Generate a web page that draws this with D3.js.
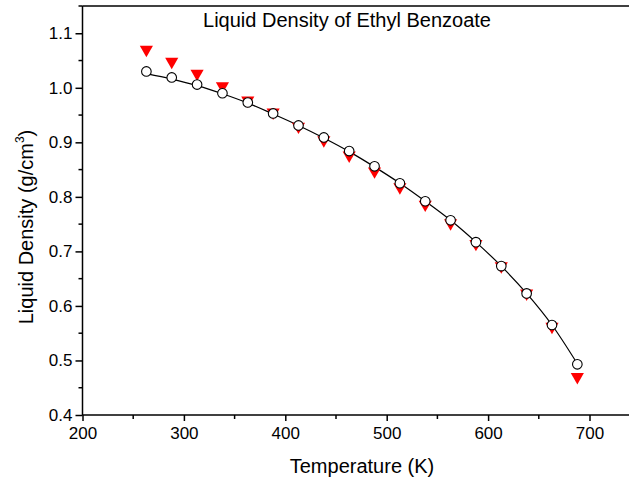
<!DOCTYPE html>
<html>
<head>
<meta charset="utf-8">
<script src="https://cdn.jsdelivr.net/npm/d3@7"></script>
<style>
  body { margin: 0; background: #fff; }
  text { font-family: Arial, "Liberation Sans", sans-serif; fill: #000; }
</style>
</head>
<body>
<script>
const w = 629;
const h = 480;

const temps = [263, 288, 313, 338, 363, 388, 413, 438, 463, 488, 513, 538, 563, 588, 613, 638, 663, 688];
const circleValues = [1.030, 1.019, 1.006, 0.990, 0.973, 0.953, 0.931, 0.909, 0.884, 0.856, 0.825, 0.792, 0.757, 0.717, 0.673, 0.623, 0.565, 0.493];
const triangleValues = [1.070, 1.048, 1.026, 1.003, 0.977, 0.955, 0.929, 0.904, 0.876, 0.847, 0.818, 0.786, 0.752, 0.714, 0.673, 0.623, 0.562, 0.470];
const fitValues = [1.026, 1.016, 1.004, 0.989, 0.972, 0.952, 0.931, 0.908, 0.883, 0.855, 0.825, 0.792, 0.757, 0.717, 0.673, 0.623, 0.565, 0.494];
const xTicks = [200, 300, 400, 500, 600, 700];
const yTicks = [0.4, 0.5, 0.6, 0.7, 0.8, 0.9, 1.0, 1.1];

const plotLeft = 82.5, plotTop = 6, plotBottom = 415;

const svg = d3.select("body").append("svg")
    .attr("width", w)
    .attr("height", h);

const xScale = d3.scaleLinear().domain([200, 700]).range([plotLeft, 589.5]);
const yScale = d3.scaleLinear().domain([0.4, 1.15]).range([plotBottom, plotTop]);

// top frame line
svg.append("line")
    .attr("x1", plotLeft).attr("x2", w)
    .attr("y1", plotTop).attr("y2", plotTop)
    .attr("stroke", "#000").attr("stroke-width", 1.5);

// minor ticks
const xMinor = d3.range(250, 751, 100);
const yMinor = d3.range(0.45, 1.16, 0.1);

const xAxis = d3.axisBottom(xScale).tickValues(xTicks).tickSize(6).tickPadding(4).tickFormat(d3.format("d"));
const yAxis = d3.axisLeft(yScale).tickValues(yTicks).tickSize(7).tickPadding(3).tickFormat(d3.format(".1f"));

const gx = svg.append("g")
    .attr("transform", "translate(0," + plotBottom + ")")
    .call(xAxis);
gx.select(".domain").attr("d", "M" + plotLeft + ",0H" + w);
gx.selectAll("text").attr("font-size", 17).attr("dy", "0.8em");

gx.selectAll(".minor").data(xMinor).enter().append("line")
    .attr("x1", d => xScale(d)).attr("x2", d => xScale(d))
    .attr("y1", 0).attr("y2", 4)
    .attr("stroke", "#000").attr("stroke-width", 1.5);

const gy = svg.append("g")
    .attr("transform", "translate(" + plotLeft + ",0)")
    .call(yAxis);
gy.select(".domain").attr("d", "M0," + plotTop + "V" + plotBottom);
gy.selectAll("text").attr("font-size", 17);

gy.selectAll(".minor").data(yMinor).enter().append("line")
    .attr("x1", 0).attr("x2", -4)
    .attr("y1", d => yScale(d)).attr("y2", d => yScale(d))
    .attr("stroke", "#000").attr("stroke-width", 1.5);

svg.selectAll(".domain, .tick line").attr("stroke-width", 1.5);

// fit line
svg.append("path")
    .datum(temps.map((t, i) => [t, fitValues[i]]))
    .attr("fill", "none")
    .attr("stroke", "#000")
    .attr("stroke-width", 1.2)
    .attr("d", d3.line().x(d => xScale(d[0])).y(d => yScale(d[1])).curve(d3.curveMonotoneX));

// red triangles (pointing down)
const tri = d3.symbol().type(d3.symbolTriangle).size(75);
svg.selectAll(".tri").data(temps).enter().append("path")
    .attr("d", tri)
    .attr("transform", (t, i) => "translate(" + xScale(t) + "," + yScale(triangleValues[i]) + ") rotate(180)")
    .attr("fill", "#ff0000");

// open circles
svg.selectAll(".circ").data(temps).enter().append("circle")
    .attr("cx", t => xScale(t))
    .attr("cy", (t, i) => yScale(circleValues[i]))
    .attr("r", 4.8)
    .attr("fill", "#fff")
    .attr("stroke", "#000")
    .attr("stroke-width", 1.1);

// title
svg.append("text")
    .attr("x", 347).attr("y", 27)
    .attr("text-anchor", "middle")
    .attr("font-size", 20)
    .text("Liquid Density of Ethyl Benzoate");

// x label
svg.append("text")
    .attr("x", 362).attr("y", 473)
    .attr("text-anchor", "middle")
    .attr("font-size", 20)
    .text("Temperature (K)");

// y label
const yl = svg.append("text")
    .attr("transform", "translate(33," + 227 + ") rotate(-90)")
    .attr("text-anchor", "middle")
    .attr("font-size", 20);
yl.append("tspan").text("Liquid Density (g/cm");
yl.append("tspan").attr("font-size", 12).attr("dy", -9).text("3");
yl.append("tspan").attr("dy", 9).text(")");
</script>
</body>
</html>
